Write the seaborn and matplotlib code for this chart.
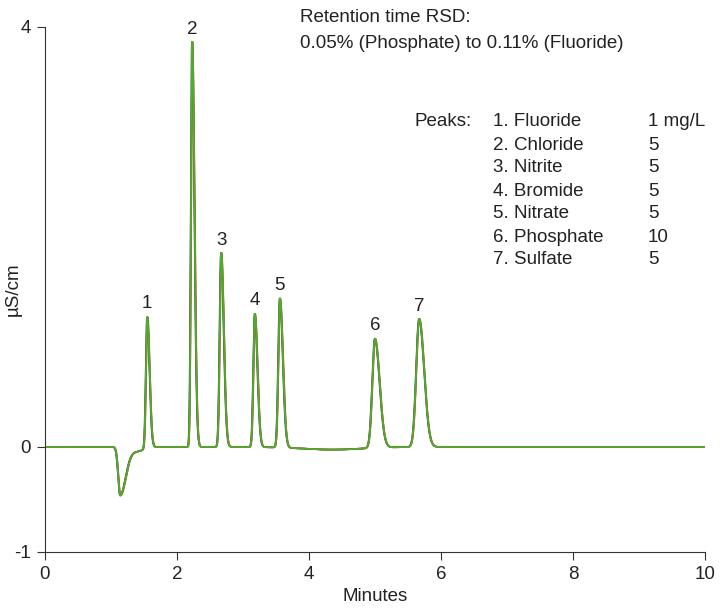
import numpy as np
import pandas as pd
import matplotlib
matplotlib.use("Agg")
import matplotlib.pyplot as plt
import seaborn as sns

# ---- data ----
peak_labels = ["1", "2", "3", "4", "5", "6", "7"]
peak_times = [1.55, 2.23, 2.67, 3.18, 3.56, 5.00, 5.67]      # minutes
peak_heights = [1.25, 3.86, 1.85, 1.27, 1.42, 1.04, 1.22]    # µS/cm
peak_sigma_left = [0.020, 0.018, 0.022, 0.022, 0.024, 0.040, 0.045]
peak_sigma_right = [0.035, 0.035, 0.040, 0.040, 0.045, 0.070, 0.075]

dip_time = 1.14
dip_height = -0.46
dip_sigma_left = 0.030
dip_sigma_right = 0.085

# small baseline sag between peaks (time, depth, width)
sag_times = [1.40, 4.35]
sag_depths = [-0.04, -0.025]
sag_widths = [0.10, 0.45]

run_names = ["Run 1", "Run 2", "Run 3", "Run 4"]
run_shifts = [-0.004, 0.004, 0.002, 0.0]
run_colors = ["#1f2a44", "#c0504d", "#8a6d3b", "#4caf2a"]

peak_names = ["1. Fluoride", "2. Chloride", "3. Nitrite", "4. Bromide",
              "5. Nitrate", "6. Phosphate", "7. Sulfate"]
peak_amounts = ["1 mg/L", "5", "5", "5", "5", "10", "5"]

x_ticks = [0, 2, 4, 6, 8, 10]
y_ticks = [-1, 0, 4]


def asym_peak(t, t0, h, sl, sr):
    s = np.where(t < t0, sl, sr)
    return h * np.exp(-0.5 * ((t - t0) / s) ** 2)


t = np.linspace(0, 10, 4001)
frames = []
for name, shift in zip(run_names, run_shifts):
    y = np.zeros_like(t)
    y += asym_peak(t, dip_time + shift, dip_height, dip_sigma_left, dip_sigma_right)
    for tc, d, w in zip(sag_times, sag_depths, sag_widths):
        y += d * np.exp(-0.5 * ((t - tc) / w) ** 2)
    for t0, h, sl, sr in zip(peak_times, peak_heights, peak_sigma_left, peak_sigma_right):
        y += asym_peak(t, t0 + shift, h, sl, sr)
    frames.append(pd.DataFrame({"t": t, "y": y, "run": name}))
df = pd.concat(frames, ignore_index=True)

sns.set_theme(style="white")
plt.rcParams["font.family"] = ["Liberation Sans", "DejaVu Sans"]

FS = 13.5
TXT = "#222222"

fig = plt.figure(figsize=(7.21, 6.16), dpi=100)
ax = fig.add_axes([0.0624, 0.1039, 0.9154, 0.8523])

sns.lineplot(data=df, x="t", y="y", hue="run", palette=run_colors,
             linewidth=1.2, legend=False, ax=ax, estimator=None, sort=False)

ax.set_xlim(0, 10)
ax.set_ylim(-1, 4)
ax.set_xticks(x_ticks)
ax.set_yticks(y_ticks)
ax.set_xticklabels([str(v) for v in x_ticks])
ax.set_yticklabels([str(v) for v in y_ticks])
ax.tick_params(axis="both", direction="out", length=6, width=0.8,
               color="#333333", labelsize=FS, labelcolor=TXT, pad=4)
ax.tick_params(axis="both", which="both", bottom=True, left=True)
for side in ["top", "right"]:
    ax.spines[side].set_visible(False)
for side in ["left", "bottom"]:
    ax.spines[side].set_color("#333333")
    ax.spines[side].set_linewidth(0.8)

ax.set_xlabel("Minutes", fontsize=FS, color=TXT, labelpad=4)
ax.set_ylabel("µS/cm", fontsize=FS, color=TXT)
ax.yaxis.set_label_coords(-0.035, 0.5)

for lab, t0, h in zip(peak_labels, peak_times, peak_heights):
    ax.annotate(lab, xy=(t0, h), xytext=(0, 3), textcoords="offset points",
                ha="center", va="bottom", fontsize=FS, color=TXT)

fig.text(300 / 721, 1 - 18 / 616, "Retention time RSD:", fontsize=FS,
         color=TXT, va="center", ha="left")
fig.text(300 / 721, 1 - 43 / 616, "0.05% (Phosphate) to 0.11% (Fluoride)",
         fontsize=FS, color=TXT, va="center", ha="left")

row_y0 = 122
row_dy = 23
fig.text(415 / 721, 1 - row_y0 / 616, "Peaks:", fontsize=FS, color=TXT,
         va="center", ha="left")
for i, (nm, am) in enumerate(zip(peak_names, peak_amounts)):
    yy = 1 - (row_y0 + i * row_dy) / 616
    fig.text(493 / 721, yy, nm, fontsize=FS, color=TXT, va="center", ha="left")
    fig.text(648 / 721, yy, am, fontsize=FS, color=TXT, va="center", ha="left")

fig.savefig("out.png", dpi=100)
